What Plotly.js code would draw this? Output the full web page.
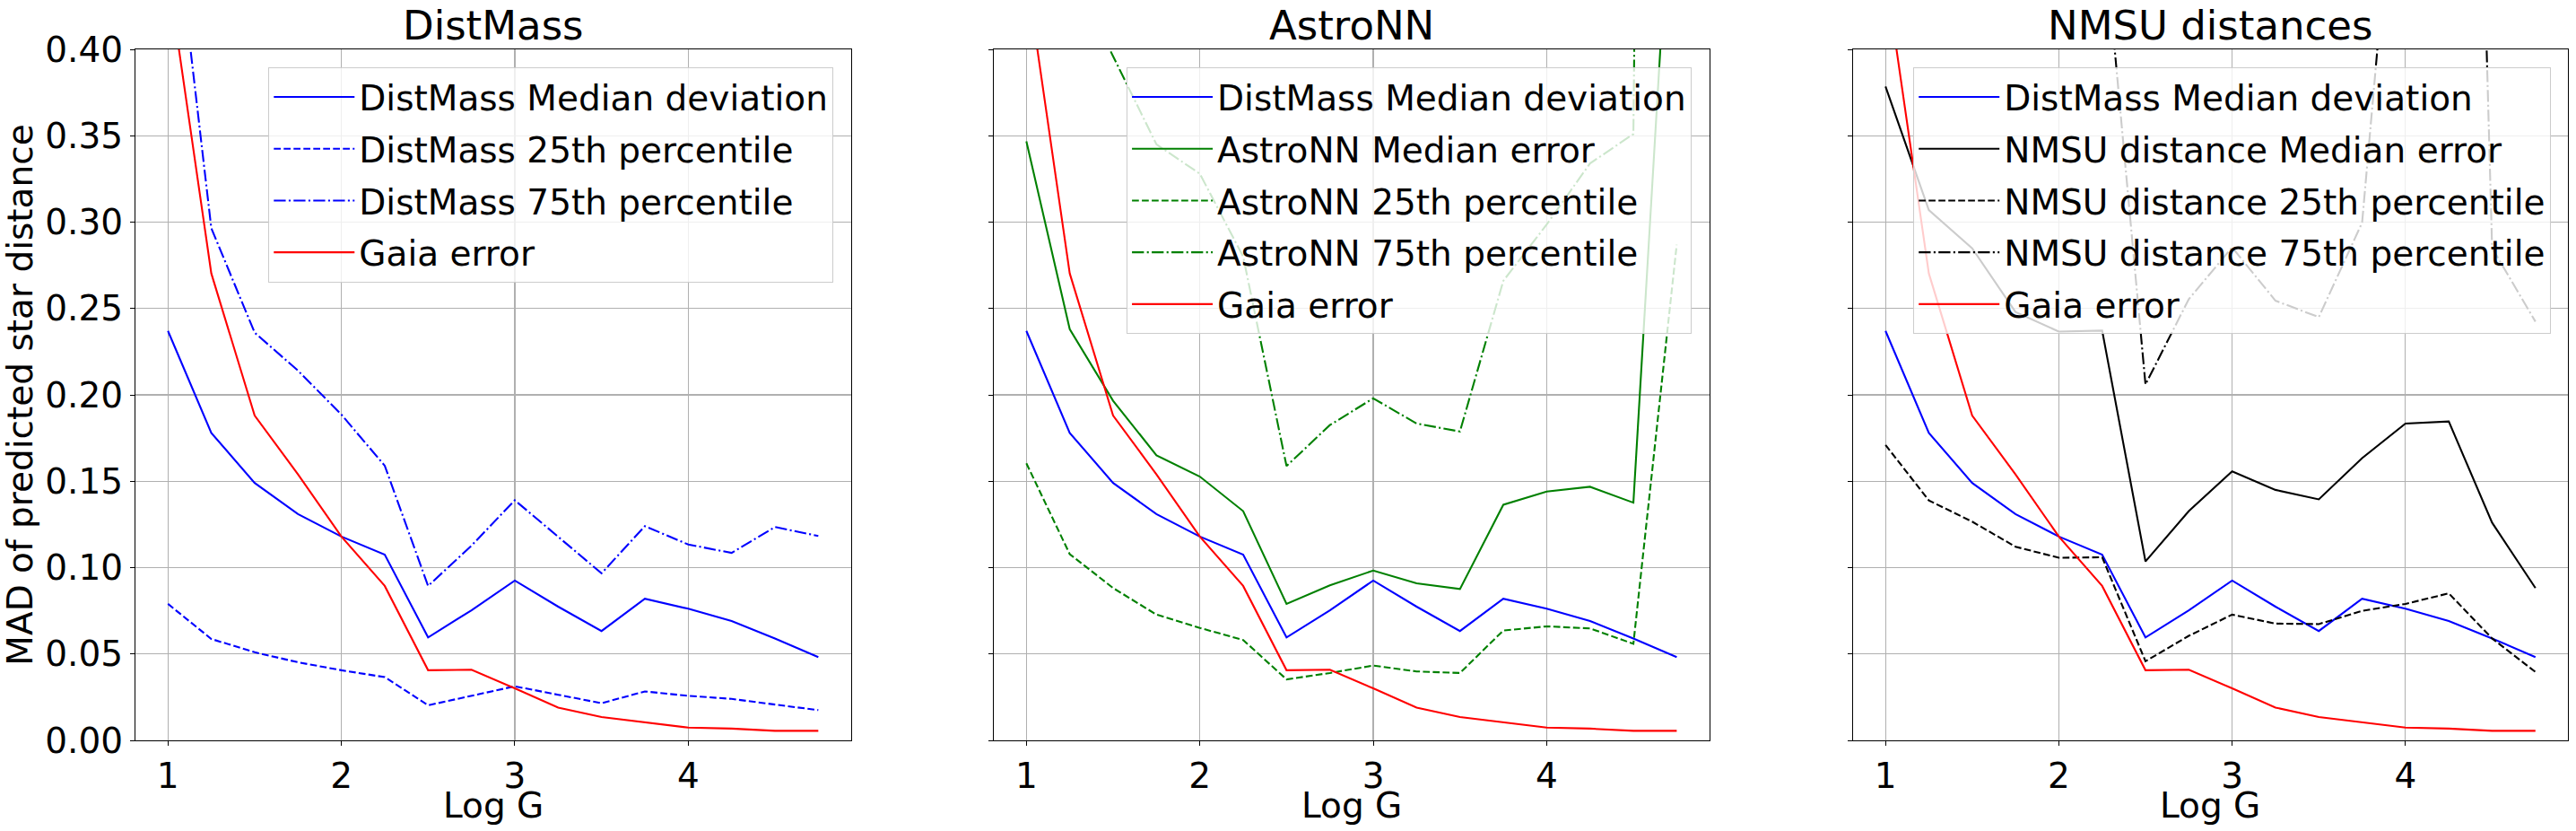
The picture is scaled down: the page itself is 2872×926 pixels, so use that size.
<!DOCTYPE html>
<html>
<head>
<meta charset="utf-8">
<script src="https://cdn.plot.ly/plotly-3.0.1.min.js"></script>
<style>
  html, body { margin: 0; padding: 0; background: #fff; }
  #chart { width: 2872px; height: 926px; }
</style>
</head>
<body>
<div id="chart"></div>
<script>
// log g bins (x)
const logG = [1, 1.25, 1.5, 1.75, 2, 2.25, 2.5, 2.75, 3, 3.25, 3.5, 3.75, 4, 4.25, 4.5, 4.75];

// DistMass
const distMassMedian = [0.237, 0.178, 0.149, 0.131, 0.118, 0.1075, 0.0596, 0.0753, 0.0925, 0.0774, 0.0633, 0.082, 0.0762, 0.0691, 0.059, 0.0482];
const distMass25 = [0.079, 0.0587, 0.051, 0.0452, 0.0406, 0.0366, 0.0203, 0.0258, 0.0313, 0.0264, 0.0215, 0.0283, 0.0258, 0.024, 0.0206, 0.0175];
const distMass75 = [0.512, 0.2965, 0.236, 0.214, 0.1886, 0.159, 0.0894, 0.1127, 0.139, 0.118, 0.0967, 0.124, 0.1134, 0.1085, 0.1235, 0.1183];

// Gaia
const gaiaError = [0.444, 0.2703, 0.188, 0.154, 0.118, 0.0894, 0.0406, 0.0409, 0.0301, 0.019, 0.0135, 0.0104, 0.0074, 0.0068, 0.0055, 0.0055];

// AstroNN
const astroMedian = [0.3468, 0.238, 0.1966, 0.165, 0.1527, 0.1327, 0.079, 0.0897, 0.0983, 0.0909, 0.0876, 0.1364, 0.144, 0.1468, 0.1376, 0.56];
const astro25 = [0.1604, 0.1078, 0.0882, 0.0728, 0.0651, 0.0581, 0.0353, 0.039, 0.0433, 0.0399, 0.039, 0.0636, 0.066, 0.0648, 0.0559, 0.287];
const astro75 = [0.62, 0.447, 0.396, 0.345, 0.328, 0.28, 0.1588, 0.1825, 0.198, 0.1834, 0.1788, 0.266, 0.2986, 0.334, 0.351, 2.8];

// NMSU
const nmsuMedian = [0.3785, 0.307, 0.2848, 0.248, 0.2366, 0.2372, 0.1036, 0.1327, 0.1557, 0.145, 0.1395, 0.1634, 0.1834, 0.1846, 0.126, 0.0882];
const nmsu25 = [0.171, 0.1389, 0.1266, 0.1121, 0.1057, 0.106, 0.0458, 0.0605, 0.0728, 0.0676, 0.0673, 0.075, 0.079, 0.0851, 0.059, 0.0396];
const nmsu75 = [0.62, 0.58, 0.55, 0.52, 0.5, 0.479, 0.206, 0.2554, 0.2854, 0.2545, 0.245, 0.2997, 0.585, 1.2, 0.285, 0.2424];

const titles = ['DistMass', 'AstroNN', 'NMSU distances'];
const xTitle = 'Log G';

const DASH = '7.7px,3.3px';
const DASHDOT = '13.3px,3.3px,2.1px,3.3px';

let gid = 0;
function line(y, name, color, dash, n) {
    gid += 1;
    return {
        x: logG,
        y: y,
        name: name,
        type: 'scatter',
        mode: 'lines',
        line: {color: color, width: 2.1, dash: dash},
        xaxis: n === 1 ? 'x' : 'x' + n,
        yaxis: n === 1 ? 'y' : 'y' + n,
        legend: n === 1 ? 'legend' : 'legend' + n,
        legendgroup: 'g' + gid
    };
}

const data = [
    line(distMassMedian, 'DistMass Median deviation', '#0000ff', 'solid', 1),
    line(distMass25, 'DistMass 25th percentile', '#0000ff', DASH, 1),
    line(distMass75, 'DistMass 75th percentile', '#0000ff', DASHDOT, 1),
    line(gaiaError, 'Gaia error', '#ff0000', 'solid', 1),

    line(distMassMedian, 'DistMass Median deviation', '#0000ff', 'solid', 2),
    line(astroMedian, 'AstroNN Median error', '#008000', 'solid', 2),
    line(astro25, 'AstroNN 25th percentile', '#008000', DASH, 2),
    line(astro75, 'AstroNN 75th percentile', '#008000', DASHDOT, 2),
    line(gaiaError, 'Gaia error', '#ff0000', 'solid', 2),

    line(distMassMedian, 'DistMass Median deviation', '#0000ff', 'solid', 3),
    line(nmsuMedian, 'NMSU distance Median error', '#000000', 'solid', 3),
    line(nmsu25, 'NMSU distance 25th percentile', '#000000', DASH, 3),
    line(nmsu75, 'NMSU distance 75th percentile', '#000000', DASHDOT, 3),
    line(gaiaError, 'Gaia error', '#ff0000', 'solid', 3)
];

const domains = [[0, 0.2941], [0.3529, 0.6470], [0.7061, 1]];

function xAxis(i) {
    return {
        domain: domains[i],
        anchor: i === 0 ? 'y' : 'y' + (i + 1),
        range: [0.8125, 4.9375],
        tick0: 0, dtick: 1,
        ticks: 'outside', ticklen: 5, tickwidth: 1, tickcolor: '#000',
        showline: true, mirror: true, linecolor: '#000', linewidth: 1.1,
        showgrid: true, gridcolor: '#b0b0b0', gridwidth: 1.1,
        zeroline: false
    };
}

function yAxis(i) {
    return {
        anchor: i === 0 ? 'x' : 'x' + (i + 1),
        range: [0, 0.4],
        tick0: 0, dtick: 0.05, tickformat: '.2f',
        showticklabels: i === 0,
        ticks: 'outside', ticklen: 5, tickwidth: 1, tickcolor: '#000',
        showline: true, mirror: true, linecolor: '#000', linewidth: 1.1,
        showgrid: true, gridcolor: '#b0b0b0', gridwidth: 1.1,
        zeroline: false,
        title: i === 0 ? {text: 'MAD of predicted star distance', standoff: 8, font: {size: 39}} : {text: ''}
    };
}

function legendAt(x) {
    return {
        x: x, y: 0.974, xanchor: 'right', yanchor: 'top',
        bgcolor: 'rgba(255,255,255,0.8)',
        bordercolor: '#cccccc', borderwidth: 1.2,
        font: {size: 39, color: '#000'},
        itemwidth: 90,
        traceorder: 'grouped',
        tracegroupgap: 4
    };
}

const titleNotes = titles.map((t, i) => ({
    text: t,
    xref: 'paper', yref: 'paper',
    x: (domains[i][0] + domains[i][1]) / 2,
    y: 1, xanchor: 'center', yanchor: 'bottom', yshift: -2,
    showarrow: false,
    font: {size: 45, color: '#000'}
}));

const xTitleNotes = domains.map(d => ({
    text: xTitle,
    xref: 'paper', yref: 'paper',
    x: (d[0] + d[1]) / 2,
    y: -0.062, xanchor: 'center', yanchor: 'top',
    showarrow: false,
    font: {size: 39, color: '#000'}
}));

const layout = {
    width: 2872,
    height: 926,
    margin: {l: 151, r: 9, t: 55, b: 101, pad: 0},
    paper_bgcolor: '#fff',
    plot_bgcolor: '#fff',
    font: {family: 'DejaVu Sans', size: 39, color: '#000'},
    showlegend: true,
    xaxis: xAxis(0), xaxis2: xAxis(1), xaxis3: xAxis(2),
    yaxis: yAxis(0), yaxis2: yAxis(1), yaxis3: yAxis(2),
    legend: legendAt(0.2869),
    legend2: legendAt(0.6397),
    legend3: legendAt(0.993),
    annotations: titleNotes.concat(xTitleNotes)
};

Plotly.newPlot('chart', data, layout, {staticPlot: true});
</script>
</body>
</html>
